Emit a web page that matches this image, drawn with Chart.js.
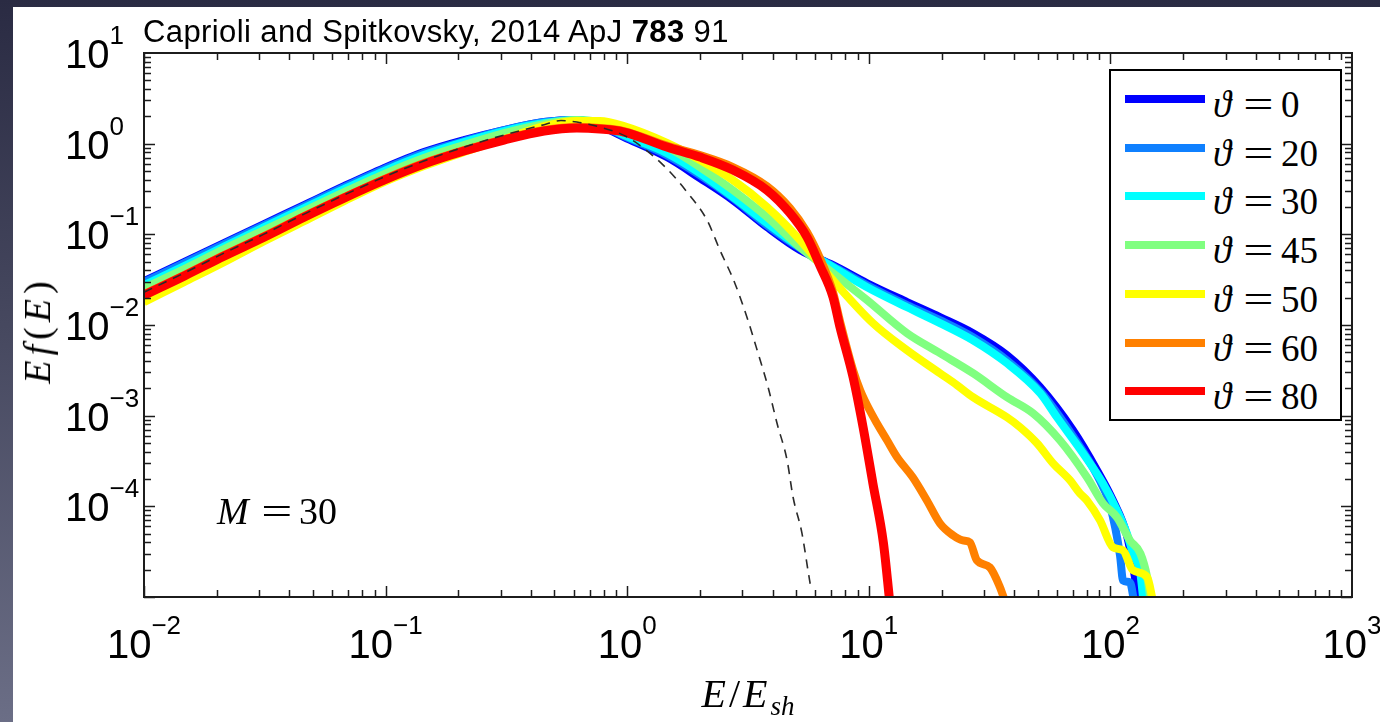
<!DOCTYPE html>
<html>
<head>
<meta charset="utf-8">
<script src="https://cdn.jsdelivr.net/npm/chart.js@4.4.1/dist/chart.umd.min.js"></script>
<style>
  html, body { margin: 0; padding: 0; }
  body {
    width: 1380px; height: 722px; position: relative; overflow: hidden;
    background: linear-gradient(180deg, #2a2b43 0%, #46485f 45%, #6b6e86 100%);
    font-family: "Liberation Sans", Arial, sans-serif;
  }
  #sheet { position: absolute; left: 13px; top: 7px; width: 1367px; height: 715px; background: #fff; }
  #plot { position: absolute; left: 0; top: 0; }
  .lbl { position: absolute; white-space: nowrap; color: #000; }
  .math { font-family: "Liberation Serif", "DejaVu Serif", serif; }
  .math i { font-style: italic; }
  #title { left: 143px; top: 16px; font-size: 31px; line-height: 31px; letter-spacing: 0.4px; }
  #ytitle { left: 37px; top: 330px; font-size: 38px; line-height: 38px; letter-spacing: 5px;
            transform: translate(-50%, -50%) rotate(-90deg); }
  #xtitle { left: 748px; top: 674px; font-size: 40px; line-height: 40px; letter-spacing: 3px;
            transform: translateX(-50%); }
  #xtitle sub { font-size: 27px; vertical-align: -8px; letter-spacing: 0; }
  #mlabel { left: 217px; top: 492px; font-size: 38px; line-height: 38px; }
  #legend { position: absolute; left: 1109px; top: 69px; width: 229px; height: 348px;
            border: 2px solid #000; background: #fff; }
  .swatch { position: absolute; left: 14px; width: 80px; height: 8px; }
  .ltext { position: absolute; left: 102px; font-size: 37px; line-height: 37px; }
  .eq { display: inline-block; transform: scaleX(1.45); margin: 0 12px 0 17px; }
</style>
</head>
<body>
<div id="sheet"></div>
<canvas id="plot" width="1380" height="722"></canvas>
<div id="title" class="lbl">Caprioli and Spitkovsky, 2014 ApJ <b>783</b> 91</div>
<div id="ytitle" class="lbl math"><i>E</i><i>f</i>(<i>E</i>)</div>
<div id="xtitle" class="lbl math"><i>E</i>/<i>E</i><sub><i>sh</i></sub></div>
<div id="mlabel" class="lbl math"><i>M</i><span class="eq">=</span>30</div>
<div id="legend"></div>
<script>
const angles = [0, 20, 30, 45, 50, 60, 80];
const colors = ["#0000FF", "#0F80FF", "#00FFFF", "#80FF80", "#FFFF00", "#FF8000", "#FF0000"];
const widths = [8, 8, 8, 8, 8, 8, 9];

const xLabelExps = [-2, -1, 0, 1, 2, 3];
const yLabelExps = [-4, -3, -2, -1, 0, 1];
const xDecades = [-2, -1, 0, 1, 2];
const yDecades = [-5, -4, -3, -2, -1, 0];

// [E/E_sh, E f(E)]
const th0 = [[0.01, 0.0304], [0.01465, 0.0493], [0.02143, 0.0799], [0.0314, 0.1296], [0.046, 0.210],
  [0.0673, 0.340], [0.0985, 0.538], [0.144, 0.808], [0.211, 1.096], [0.309, 1.413], [0.453, 1.731],
  [0.619, 1.822], [0.771, 1.564], [0.97, 1.183], [1.46, 0.711], [2.0, 0.417],
  [2.74, 0.238], [3.79, 0.120], [5.19, 0.067], [7.11, 0.0457], [9.84, 0.0289], [14.4, 0.0179],
  [19.7, 0.0122], [27.0, 0.00811], [37.3, 0.00465], [51.2, 0.00206], [70.0, 0.00069],
  [88.1, 0.000249], [102.5, 0.000116], [117, 0.0000479], [124, 0.0000223], [131, 0.000009]];
const th20 = [[0.01, 0.0297], [0.01465, 0.0481], [0.02143, 0.0779], [0.0314, 0.1263], [0.046, 0.2048],
  [0.0673, 0.332], [0.0985, 0.524], [0.144, 0.788], [0.211, 1.068], [0.309, 1.413], [0.453, 1.731],
  [0.619, 1.822], [0.771, 1.604], [0.97, 1.213], [1.46, 0.748], [2.0, 0.450],
  [2.74, 0.251], [3.79, 0.126], [5.19, 0.0705], [7.11, 0.0446], [9.84, 0.0275], [14.4, 0.0166],
  [19.7, 0.0113], [27.0, 0.00733], [37.3, 0.00408], [51.2, 0.00186], [70.0, 0.000593],
  [88.1, 0.00022], [99.6, 0.000103], [109.6, 0.0000288], [112.8, 0.0000152], [120.5, 0.0000145],
  [125.3, 0.000009]];
const th30 = [[0.01, 0.0275], [0.01465, 0.0446], [0.02143, 0.0731], [0.0314, 0.1201], [0.046, 0.1946],
  [0.0673, 0.315], [0.0985, 0.498], [0.144, 0.748], [0.211, 1.041], [0.309, 1.378], [0.453, 1.688],
  [0.619, 1.822], [0.771, 1.645], [0.97, 1.244], [1.46, 0.787], [2.0, 0.474],
  [2.74, 0.258], [3.79, 0.133], [5.19, 0.0722], [7.11, 0.0434], [9.84, 0.0261], [14.4, 0.0157],
  [19.7, 0.0105], [27.0, 0.00679], [37.3, 0.00379], [51.2, 0.00177], [60.1, 0.00096],
  [77.0, 0.000385], [93.2, 0.000179], [106.5, 0.0000903], [117, 0.0000503], [124, 0.0000303],
  [133, 0.0000182], [137, 0.000009]];
const th45 = [[0.01, 0.0255], [0.01465, 0.0413], [0.02143, 0.0687], [0.0314, 0.1113], [0.046, 0.1803],
  [0.0673, 0.292], [0.0985, 0.462], [0.144, 0.694], [0.211, 0.965], [0.309, 1.309], [0.453, 1.645],
  [0.619, 1.822], [0.771, 1.731], [0.97, 1.486], [1.46, 0.917], [2.0, 0.552],
  [2.74, 0.307], [3.79, 0.155], [5.19, 0.0722], [7.11, 0.0373], [9.84, 0.0188], [14.4, 0.00811],
  [19.7, 0.00489], [27.0, 0.00294], [37.3, 0.0016], [47.9, 0.00106], [61.8, 0.000535],
  [80.0, 0.000209], [93.2, 0.000108], [106.5, 0.0000757], [120.5, 0.0000421], [133, 0.0000303],
  [142, 0.0000165], [147, 0.000009]];
const th50 = [[0.01, 0.0179], [0.01465, 0.0297], [0.02143, 0.0493], [0.0314, 0.0841], [0.046, 0.1398],
  [0.0673, 0.2325], [0.0985, 0.377], [0.144, 0.566], [0.211, 0.808], [0.309, 1.124], [0.453, 1.564],
  [0.619, 1.776], [0.771, 1.776], [0.97, 1.564], [1.46, 1.02], [2.0, 0.659],
  [2.74, 0.396], [3.79, 0.200], [5.19, 0.0863], [7.11, 0.0312], [10.4, 0.0105], [14.4, 0.00527],
  [19.7, 0.00294], [23.2, 0.00217], [27.0, 0.0016], [37.3, 0.00096], [42.3, 0.000745],
  [49.7, 0.000496], [57.9, 0.000298], [68.0, 0.000194], [74.8, 0.000139], [80.0, 0.000116],
  [90.6, 0.00007], [102.5, 0.0000353], [112.8, 0.0000327], [124, 0.0000197], [142, 0.0000165],
  [150, 0.000009]];
const th60 = [[0.01, 0.0219], [0.01465, 0.0355], [0.02143, 0.0589], [0.0314, 0.0955], [0.046, 0.1588],
  [0.0673, 0.257], [0.0985, 0.407], [0.144, 0.611], [0.211, 0.850], [0.309, 1.124], [0.453, 1.413],
  [0.619, 1.525], [0.771, 1.486], [0.97, 1.378], [1.46, 0.95], [2.0, 0.748],
  [2.74, 0.552], [3.79, 0.340], [4.72, 0.195], [5.55, 0.106], [6.28, 0.0546], [7.11, 0.023],
  [7.6, 0.011], [8.61, 0.00317], [9.21, 0.00191], [9.84, 0.0013], [10.8, 0.000824],
  [11.9, 0.000535], [13.1, 0.000348], [15.2, 0.000209], [17.4, 0.000116], [19.7, 0.0000649],
  [22.3, 0.0000479], [24.5, 0.0000421], [26.2, 0.0000401], [28.0, 0.0000254], [31.7, 0.0000212],
  [34.9, 0.0000128], [36.6, 0.000009]];
const th80 = [[0.01, 0.0213], [0.01465, 0.0346], [0.02143, 0.0575], [0.0314, 0.0931], [0.046, 0.1548],
  [0.0673, 0.251], [0.0985, 0.396], [0.144, 0.595], [0.211, 0.829], [0.309, 1.096], [0.453, 1.378],
  [0.619, 1.486], [0.771, 1.449], [0.97, 1.343], [1.46, 0.917], [2.0, 0.711],
  [2.74, 0.512], [3.79, 0.307], [4.72, 0.171], [5.55, 0.0931], [6.28, 0.045], [7.11, 0.0203],
  [7.6, 0.00946], [8.61, 0.00265], [9.47, 0.000745], [10.4, 0.000179], [11.5, 0.0000391],
  [12.2, 0.000009]];
const maxwell = [[0.01, 0.0230], [0.01465, 0.0373], [0.02143, 0.0620], [0.0314, 0.1005], [0.046, 0.1671],
  [0.0673, 0.271], [0.0985, 0.428], [0.144, 0.643], [0.211, 0.917], [0.309, 1.244], [0.453, 1.62],
  [0.532, 1.80], [0.619, 1.73], [0.771, 1.525], [1.0, 1.183], [1.41, 0.580], [1.77, 0.292],
  [2.14, 0.1435], [2.42, 0.0670], [2.79, 0.0289], [3.16, 0.0113], [3.48, 0.00489], [3.83, 0.00206],
  [4.17, 0.000824], [4.59, 0.000322], [4.86, 0.000126], [5.29, 0.0000503], [5.60, 0.0000197],
  [5.72, 0.000014]];

const series = [th0, th20, th30, th45, th50, th60, th80];

const BASE_FONT = '40px "Liberation Sans", Arial, sans-serif';
const SUP_FONT = '26px "Liberation Sans", Arial, sans-serif';

function powerLabel(ctx, exp, x, base, align) {
  const sup = exp < 0 ? `\u2212${-exp}` : String(exp);
  ctx.font = BASE_FONT;
  const wb = ctx.measureText("10").width;
  ctx.font = SUP_FONT;
  const ws = ctx.measureText(sup).width;
  const left = align === "center" ? x - (wb + ws) / 2 : x;
  ctx.font = BASE_FONT;
  ctx.fillText("10", left, base);
  ctx.font = SUP_FONT;
  ctx.fillText(sup, left + wb, base - 24);
}

const axesDeco = {
  id: "axesDeco",
  afterDatasetsDraw(chart) {
    const { ctx, chartArea: a, scales } = chart;
    ctx.save();
    ctx.strokeStyle = "#1c1c1c";
    ctx.lineWidth = 1.5;
    ctx.beginPath();
    for (const k of xDecades) {
      for (let m = 1; m < 10; m++) {
        const px = Math.round(scales.x.getPixelForValue(m * 10 ** k)) + 0.5;
        const len = m === 1 ? 11 : 7;
        ctx.moveTo(px, a.bottom); ctx.lineTo(px, a.bottom - len);
        ctx.moveTo(px, a.top); ctx.lineTo(px, a.top + len);
      }
    }
    for (const k of yDecades) {
      for (let m = 1; m < 10; m++) {
        const py = Math.round(scales.y.getPixelForValue(m * 10 ** k)) + 0.5;
        const len = m === 1 ? 11 : 7;
        ctx.moveTo(a.left, py); ctx.lineTo(a.left + len, py);
        ctx.moveTo(a.right, py); ctx.lineTo(a.right - len, py);
      }
    }
    ctx.stroke();
    ctx.lineWidth = 2;
    ctx.strokeRect(a.left, a.top, a.right - a.left, a.bottom - a.top);

    ctx.fillStyle = "#000";
    ctx.textAlign = "left";
    ctx.textBaseline = "alphabetic";
    for (const k of xLabelExps) powerLabel(ctx, k, scales.x.getPixelForValue(10 ** k), 658, "center");
    for (const k of yLabelExps) powerLabel(ctx, k, 65, scales.y.getPixelForValue(10 ** k) + 15, "left");
    ctx.restore();
  },
};

function buildLegend() {
  const box = document.getElementById("legend");
  box.innerHTML = angles
    .map((a, i) => {
      const top = 28 + i * 48.7;
      return `<div class="swatch" style="top:${top - 4}px;background:${colors[i]}"></div>
        <div class="ltext math" style="top:${top - 13}px"><i>\u03D1</i><span class="eq">=</span>${a}</div>`;
    })
    .join("");
}

const datasets = series.map((s, i) => ({
  label: `\u03D1 = ${angles[i]}`,
  data: s.map(([x, y]) => ({ x, y })),
  borderColor: colors[i],
  borderWidth: widths[i],
  order: series.length - i,
  cubicInterpolationMode: "monotone",
  borderJoinStyle: "round",
  pointRadius: 0,
  fill: false,
  clip: 0,
}));
datasets.push({
  label: "Maxwellian",
  data: maxwell.map(([x, y]) => ({ x, y })),
  borderColor: "#2a2a2a",
  borderWidth: 1.6,
  borderDash: [9, 7],
  order: 0,
  cubicInterpolationMode: "monotone",
  pointRadius: 0,
  fill: false,
  clip: 0,
});

buildLegend();

new Chart(document.getElementById("plot"), {
  type: "line",
  data: { datasets },
  options: {
    responsive: false,
    animation: false,
    events: [],
    layout: { padding: { left: 144, top: 53, right: 28, bottom: 125 } },
    plugins: { legend: { display: false }, tooltip: { enabled: false } },
    scales: {
      x: {
        type: "logarithmic", min: 0.01, max: 1000,
        ticks: { display: false }, grid: { display: false }, border: { display: false },
        afterFit(scale) { scale.height = 0; },
      },
      y: {
        type: "logarithmic", min: 0.00001, max: 10,
        ticks: { display: false }, grid: { display: false }, border: { display: false },
        afterFit(scale) { scale.width = 0; },
      },
    },
  },
  plugins: [axesDeco],
});
</script>
</body>
</html>
